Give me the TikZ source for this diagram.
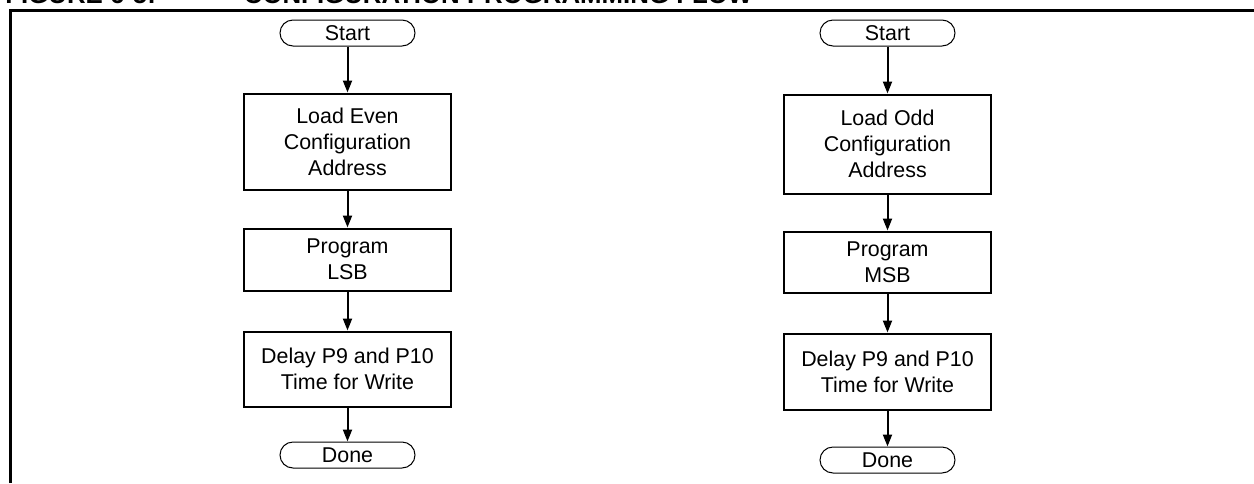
\documentclass[tikz,border=0pt]{standalone}
\usepackage{fontspec}
\setmainfont{Liberation Sans}
\usetikzlibrary{arrows.meta, positioning}

\begin{document}
\begin{tikzpicture}[
    x=0.5pt, y=-0.5pt,
    >={Triangle[length=6pt, width=4.5pt]},
    every node/.style={font=\fontsize{10.7pt}{13pt}\selectfont},
    term/.style={draw, line width=0.5pt, rounded corners=6.5pt,
                 minimum width=67.5pt, minimum height=13pt, inner sep=0pt},
    proc/.style={draw, line width=1pt, align=center,
                 minimum width=103.5pt, inner sep=0pt},
    flow/.style={->, line width=1pt},
    frame/.style={line width=1.2pt},
]
\useasboundingbox (0,0) rectangle (1254,483);
\clip (0,0) rectangle (1254,483);
\node[anchor=base west, inner sep=0pt, font=\fontsize{12.9pt}{15pt}\selectfont\bfseries]
     (title) at (5,3.5) {FIGURE 6-5:\hspace{44pt}CONFIGURATION PROGRAMMING FLOW};
\draw[frame] (10.5,483) -- (10.5,10.5) -- (1254,10.5);

% even address, low byte
\node[term] (s1) at (347.5,33) {Start};
\node[proc, minimum height=48pt, below=23pt of s1] (ld1)
     {Load Even\\Configuration\\Address};
\node[proc, minimum height=31pt, below=18.5pt of ld1] (pg1) {Program\\LSB};
\node[proc, minimum height=37.5pt, below=19.5pt of pg1] (dl1)
     {Delay P9 and P10\\Time for Write};
\node[term, below=17pt of dl1] (d1) {Done};
\draw[flow] (s1) -- (ld1);
\draw[flow] (ld1) -- (pg1);
\draw[flow] (pg1) -- (dl1);
\draw[flow] (dl1) -- (d1);

% odd address, high byte
\node[term] (s2) at (887.5,33) {Start};
\node[proc, minimum height=49.5pt, below=23.5pt of s2] (ld2)
     {Load Odd\\Configuration\\Address};
\node[proc, minimum height=30.5pt, below=18pt of ld2] (pg2) {Program\\MSB};
\node[proc, minimum height=38pt, below=19.5pt of pg2] (dl2)
     {Delay P9 and P10\\Time for Write};
\node[term, below=18pt of dl2] (d2) {Done};
\draw[flow] (s2) -- (ld2);
\draw[flow] (ld2) -- (pg2);
\draw[flow] (pg2) -- (dl2);
\draw[flow] (dl2) -- (d2);
\end{tikzpicture}
\end{document}
